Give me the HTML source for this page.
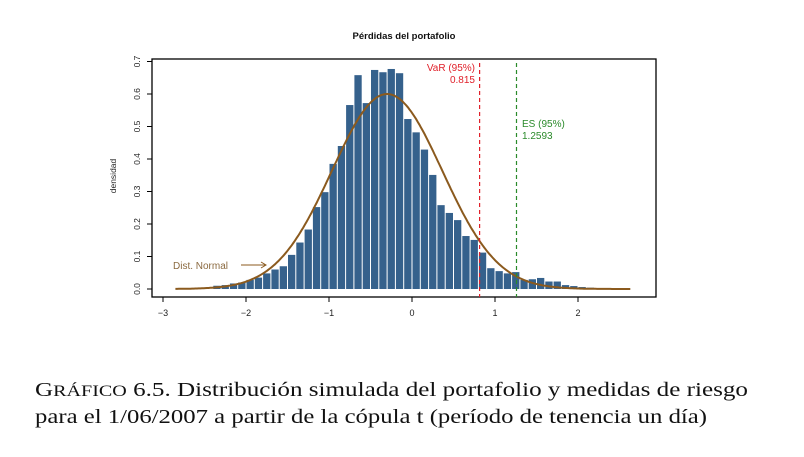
<!DOCTYPE html>
<html><head><meta charset="utf-8"><style>
html,body{margin:0;padding:0;background:#fff;}
svg{display:block;}
</style></head><body>
<svg id="s" width="804" height="457" xmlns="http://www.w3.org/2000/svg" font-family="Liberation Sans, sans-serif">
<rect width="804" height="457" fill="#fff"/>
<text x="404" y="39" font-size="9.5" font-weight="bold" text-anchor="middle" fill="#111">Pérdidas del portafolio</text>
<g id="bars" fill="#35618C"></g>
<path id="curve" fill="none" stroke="#8B5A1E" stroke-width="2"/>
<rect x="152" y="59" width="504" height="238" fill="none" stroke="#000" stroke-width="1.3"/>
<g id="axes" stroke="#000" stroke-width="1" fill="none"></g>
<g id="labels" font-size="9" fill="#222"></g>
<text transform="translate(116,176) rotate(-90)" font-size="8.5" text-anchor="middle" fill="#222">densidad</text>
<line x1="479.6" y1="63" x2="479.6" y2="297" stroke="#E0202A" stroke-width="1.2" stroke-dasharray="4,3"/>
<line x1="516.5" y1="63" x2="516.5" y2="297" stroke="#2A8A2A" stroke-width="1.2" stroke-dasharray="4,3"/>
<text x="475" y="71" font-size="10" fill="#E0202A" text-anchor="end">VaR (95%)</text>
<text x="475" y="83" font-size="10" fill="#E0202A" text-anchor="end">0.815</text>
<text x="522" y="127" font-size="10" fill="#2A8A2A">ES (95%)</text>
<text x="522" y="139" font-size="10" fill="#2A8A2A">1.2593</text>
<text x="173" y="269" font-size="10" fill="#8B6A40">Dist. Normal</text>
<line x1="241" y1="265" x2="266" y2="265" stroke="#8B5A1E" stroke-width="1"/>
<path d="M261,262 L266,265 L261,268" fill="none" stroke="#8B5A1E" stroke-width="1"/>
<g font-family="Liberation Serif, serif" font-size="20" fill="#111">
<text x="35" y="396" textLength="713" lengthAdjust="spacingAndGlyphs">G<tspan font-size="16">RÁFICO</tspan> 6.5.  Distribución simulada del portafolio y medidas de riesgo</text>
<text x="35" y="423" textLength="672" lengthAdjust="spacingAndGlyphs">para el 1/06/2007 a partir de la cópula t (período de tenencia un día)</text>
</g>
</svg>
<script>
var NS="http://www.w3.org/2000/svg";
function X(v){return 412+83*v;}
function Y(d){return 289-325*d;}
var h=[0.01,0.012,0.017,0.02,0.028,0.035,0.048,0.06,0.07,0.105,0.143,0.183,0.252,0.298,0.385,0.44,0.566,0.658,0.572,0.674,0.667,0.677,0.664,0.523,0.482,0.429,0.351,0.258,0.234,0.212,0.163,0.151,0.112,0.064,0.055,0.048,0.052,0.028,0.03,0.034,0.023,0.023,0.012,0.009,0.006,0.004];
var g=document.getElementById('bars');
for(var i=0;i<h.length;i++){var a=-2.4+0.1*i;var r=document.createElementNS(NS,'rect');
r.setAttribute('x',X(a)+0.5);r.setAttribute('width',7.3);r.setAttribute('y',Y(h[i]));r.setAttribute('height',289-Y(h[i]));g.appendChild(r);}
var d="";for(var x=-2.85;x<=2.65;x+=0.02){var y=Math.exp(-0.5*Math.pow((x+0.3)/0.665,2))/(0.665*2.5066);d+=(d?"L":"M")+X(x).toFixed(1)+","+Y(y).toFixed(1);}
document.getElementById('curve').setAttribute('d',d);
var ax=document.getElementById('axes'),lb=document.getElementById('labels');
function ln(a,b,c,e){var l=document.createElementNS(NS,'line');l.setAttribute('x1',a);l.setAttribute('y1',b);l.setAttribute('x2',c);l.setAttribute('y2',e);ax.appendChild(l);}
for(var k=-3;k<=2;k++){ln(X(k),297,X(k),302);var t=document.createElementNS(NS,'text');t.setAttribute('x',X(k));t.setAttribute('y',316);t.setAttribute('text-anchor','middle');t.textContent=(k<0?"\u2212"+(-k):k);lb.appendChild(t);}
for(var k=0;k<=7;k++){var yy=Y(k/10);ln(147,yy,152,yy);var t=document.createElementNS(NS,'text');t.setAttribute('transform','translate(140,'+yy+') rotate(-90)');t.setAttribute('text-anchor','middle');t.setAttribute('font-size','8.5');t.textContent=(k/10).toFixed(1);lb.appendChild(t);}
</script>
</body></html>
